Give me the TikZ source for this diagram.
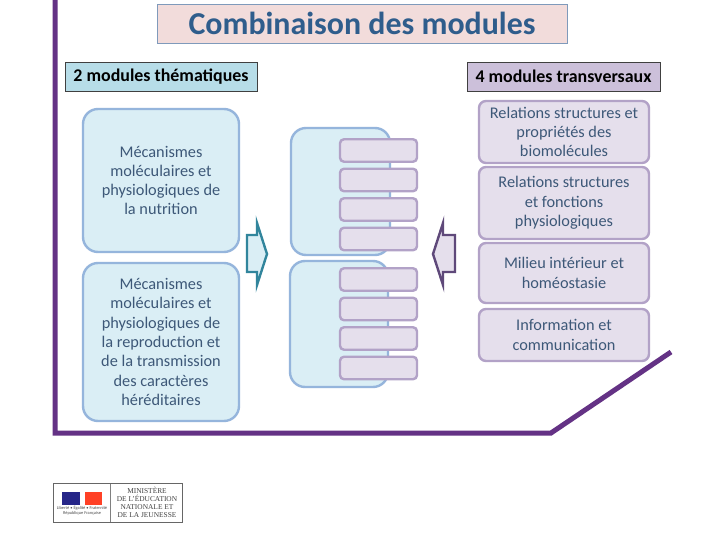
\documentclass[tikz,border=0pt]{standalone}
\usepackage{fontspec}
\setmainfont{Carlito}
\newfontfamily\logoserif{Liberation Serif}
\definecolor{frame}{HTML}{643285}
\definecolor{bluefill}{HTML}{DAEEF5}
\definecolor{blueline}{HTML}{95B5DC}
\definecolor{lilacfill}{HTML}{E5DFEC}
\definecolor{lilacline}{HTML}{B2A2C7}
\definecolor{titletext}{HTML}{2F5D8C}
\definecolor{bodytext}{HTML}{3D5878}
\definecolor{titlefill}{HTML}{F2DCDB}
\definecolor{headblue}{HTML}{B7DDE8}
\definecolor{headlilac}{HTML}{CCC0DA}
\definecolor{arrowteal}{HTML}{31859C}
\definecolor{arrowpurple}{HTML}{5F497A}
\begin{document}
\begin{tikzpicture}[x=1pt,y=-1pt,
 box/.style={draw,inner sep=0pt,align=center,text=bodytext,font=\fontsize{16.3pt}{19.3pt}\selectfont},
 bluebox/.style={fill=bluefill,draw=blueline,line width=2.4pt,rounded corners=15pt},
 modbox/.style={fill=lilacfill,draw=lilacline,line width=2.4pt,rounded corners=4pt},
 rightbox/.style={modbox,rounded corners=7pt,minimum width=170pt},
 header/.style={draw=black!75,line width=.7pt,text=black,font=\bfseries\fontsize{17.9pt}{20pt}\selectfont},
 arrowshape/.style={line width=2.4pt,miter limit=10},
]
\useasboundingbox (0,0) rectangle (720,540);
\fill[white] (0,0) rectangle (720,540);
% purple frame
\coordinate (fa) at (55,0);\coordinate (fb) at (55,433);\coordinate (fc) at (551,433);\coordinate (fd) at (671,352);
\draw[frame,line width=5pt,line join=miter] (fa) -- (fb) -- (fc) -- (fd);
% title
\node[box,fill=titlefill,draw=blueline!85!black,line width=.9pt,minimum width=410pt,minimum height=39pt,text=titletext,font=\bfseries\fontsize{31.9pt}{34pt}\selectfont] (title) at (362,23.5) {Combinaison des modules};
% headers
\node[box,header,fill=headblue,minimum width=192pt,minimum height=29pt] (ht) at (161,76.5) {2 modules thématiques};
\node[box,header,fill=headlilac,minimum width=193pt,minimum height=29pt] (hm) at (563.5,76.5) {4 modules transversaux};
% left
\node[box,bluebox,minimum width=156pt,minimum height=143pt] (l1) at (161,180.5) {Mécanismes\\moléculaires et\\physiologiques de\\la nutrition};
\node[box,bluebox,minimum width=156pt,minimum height=158pt] (l2) at (161,342) {Mécanismes\\moléculaires et\\physiologiques de\\la reproduction et\\de la transmission\\des caractères\\héréditaires};
% middle
\node[box,bluebox,minimum width=99pt,minimum height=127pt] (m1) at (340.5,191.5) {};
\node[box,bluebox,minimum width=98pt,minimum height=126pt] (m2) at (339,324) {};
\foreach \n/\y in {a/150.5,b/180,c/209.5,d/239,e/279.5,f/309,g/338.5,h/368}
  \node[box,modbox,minimum width=77pt,minimum height=22.5pt] (s\n) at (378.5,\y) {};
% arrows
\coordinate (ar1) at (267,254);\coordinate (ar2) at (433,254);
\draw[arrowshape,fill=bluefill,draw=arrowteal] (247,235) -- (257,235) -- (257,223) -- (ar1) -- (257,285) -- (257,272) -- (247,272) -- cycle;
\draw[arrowshape,fill=lilacfill,draw=arrowpurple] (455,235) -- (443,235) -- (443,223) -- (ar2) -- (443,285) -- (443,272) -- (455,272) -- cycle;
% right
\node[box,rightbox,minimum height=62pt] (r1) at (564,132) {Relations structures et\\propriétés des\\biomolécules};
\node[box,rightbox,minimum height=72pt] (r2) at (564,203) {Relations structures\\et fonctions\\physiologiques};
\node[box,rightbox,minimum height=60pt] (r3) at (564,273) {Milieu intérieur et\\homéostasie};
\node[box,rightbox,minimum height=52pt] (r4) at (564,335) {Information et\\communication};
% logo
\node[draw=black!60,line width=.7pt,fill=white,minimum width=129pt,minimum height=39pt,inner sep=0pt] (logo) at (118,503) {};
\coordinate (ls1) at (110.5,484);\coordinate (ls2) at (110.5,522);
\draw[black!50,line width=.4pt] (ls1) -- (ls2);
\fill[blue!45!black!85] (62,492) rectangle (80,505);
\fill[red!75!orange!85] (85,492) rectangle (102,505);
\node[inner sep=0pt,align=center,text=black!70,font=\fontsize{4.4pt}{5pt}\selectfont] (logoa) at (82,511) {Liberté • Égalité • Fraternité\\République Française};
\node[inner sep=0pt,align=center,text=black!75,font=\logoserif\fontsize{7.4pt}{7.9pt}\selectfont] (logob) at (147,502.5) {MINISTÈRE\\DE L’ÉDUCATION\\NATIONALE ET\\DE LA JEUNESSE};
\end{tikzpicture}
\end{document}
